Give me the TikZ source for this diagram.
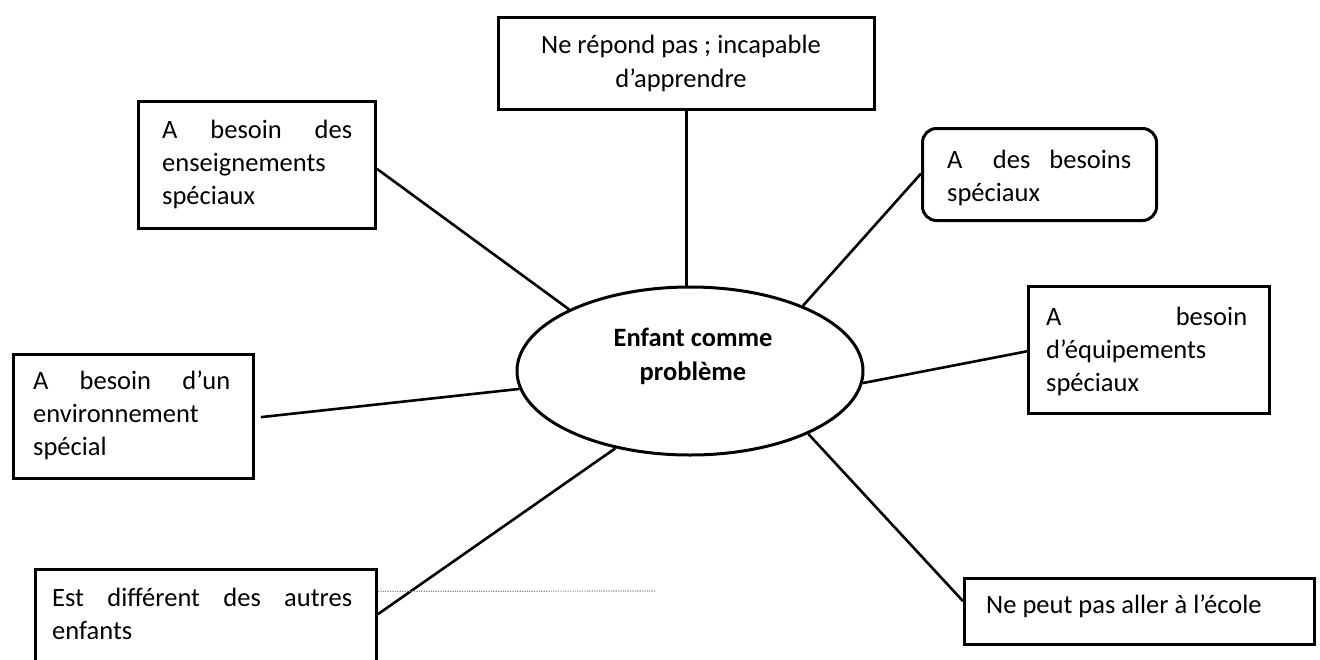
\documentclass[tikz,border=0pt]{standalone}
\usepackage{fontspec}
\setmainfont{Carlito}
\usetikzlibrary{calc,shapes.geometric}
\begin{document}
\begin{tikzpicture}[x=1pt,y=-1pt,
  box/.style={draw=black,line width=3pt,inner sep=0pt,anchor=north west},
  txt/.style={anchor=base west,inner sep=0pt,font=\fontsize{26.5}{32}\selectfont},
  ctxt/.style={anchor=base,inner sep=0pt,font=\fontsize{26.5}{32}\selectfont},
  btxt/.style={anchor=base,inner sep=0pt,font=\fontsize{26.5}{32}\selectfont\bfseries},
  conn/.style={draw=black,line width=2.6pt},
  dots/.style={draw=black!45,line width=1.2pt,dash pattern=on 1.2pt off 1.2pt}]
\useasboundingbox (0,0) rectangle (1320,659);
\clip (0,0) rectangle (1320,659);
% boxes
\node[box,minimum width=376pt,minimum height=92pt] (b1) at (497,16) {};
\node[box,minimum width=237pt,minimum height=127pt] (b2) at (137,100) {};
\node[box,rounded corners=14pt,minimum width=234pt,minimum height=92pt] (b3) at (921,127) {};
\node[box,minimum width=241pt,minimum height=127pt] (b4) at (1027,285) {};
\node[box,minimum width=240pt,minimum height=124pt] (b5) at (12,353) {};
\node[box,minimum width=341pt,minimum height=120pt] (b6) at (34,568) {};
\node[box,minimum width=350pt,minimum height=66pt] (b7) at (963,577) {};
\node[draw=black,line width=3pt,ellipse,inner sep=0pt,minimum width=346pt,minimum height=168pt] (ell) at (690,371) {};
% texts
\node[ctxt] (t1a) at (681,53) {Ne répond pas ; incapable};
\node[ctxt] (t1b) at (681,87) {d’apprendre};
\node[txt] (t2a) at (162,138) {\hbox to 190pt{A\hfill besoin\hfill des}};
\node[txt] (t2b) at (162,171) {enseignements};
\node[txt] (t2c) at (162,204) {spéciaux};
\node[txt] (t3a) at (947,168) {\hbox to 184pt{A\hskip 0pt plus 1.6fill des\hfill besoins}};
\node[txt] (t3b) at (947,201) {spéciaux};
\node[txt] (t4a) at (1046,325) {\hbox to 201pt{A\hfill besoin}};
\node[txt] (t4b) at (1046,358) {d’équipements};
\node[txt] (t4c) at (1046,391) {spéciaux};
\node[txt] (t5a) at (33,389) {\hbox to 197pt{A\hfill besoin\hfill d’un}};
\node[txt] (t5b) at (33,422) {environnement};
\node[txt] (t5c) at (33,455) {spécial};
\node[txt] (t6a) at (52,606) {\hbox to 300pt{Est\hfill différent\hfill des\hfill autres}};
\node[txt] (t6b) at (52,639) {enfants};
\node[txt] (t7) at (986,613) {Ne peut pas aller à l’école};
\node[btxt] (te1) at (693,346) {Enfant comme};
\node[btxt] (te2) at (693,380) {problème};
% connectors
\draw[conn] (b1.south) -- (b1.south |- ell.north);
\draw[conn] ($(b2.north east)!0.53!(b2.south east)$) -- (ell.153);
\draw[conn] ($(b3.north west)!0.49!(b3.south west)$) -- (ell.30);
\draw[conn] ($(b4.north west)!0.51!(b4.south west)$) -- (ell.-4);
\draw[conn,shorten <=6pt] ($(b5.north east)!0.51!(b5.south east)$) -- (ell.186);
\draw[conn] ($(b6.north east)!0.375!(b6.south east)$) -- (ell.226);
\draw[conn] ($(b7.north west)!0.35!(b7.south west)$) -- (ell.-28);
\coordinate (dotend) at (655,591);
\draw[dots] ($(b6.north east)!0.19!(b6.south east)$) -- (dotend);
\end{tikzpicture}
\end{document}
